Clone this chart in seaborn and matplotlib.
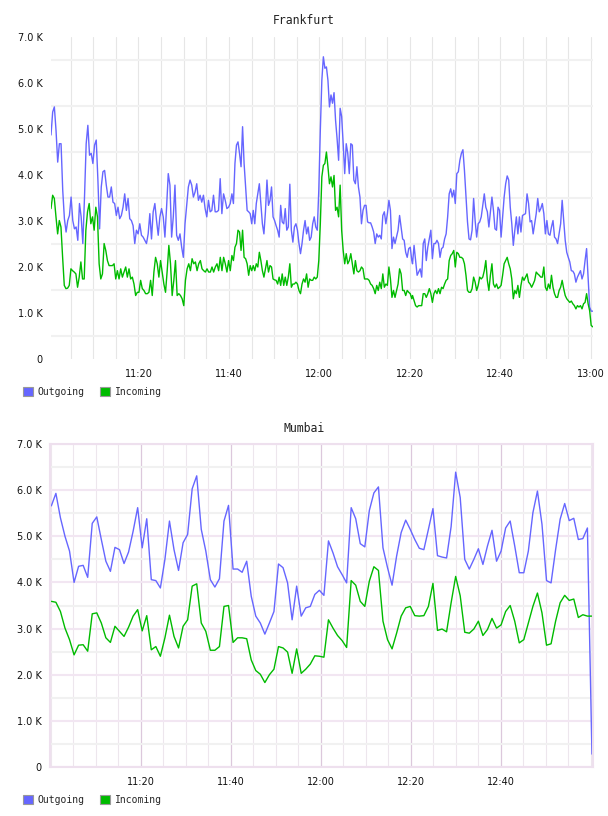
import numpy as np
import pandas as pd
import matplotlib
matplotlib.use("Agg")
import matplotlib.pyplot as plt
import matplotlib.dates as mdates
from matplotlib.patches import Patch
from matplotlib.ticker import FixedLocator, FuncFormatter
import seaborn as sns

sns.set_style("white")
plt.rcParams["font.family"] = ["DejaVu Sans"]

BLUE = "#6666ff"
GREEN = "#00bb00"
DAY = "2024-01-01 "
series_names = ["Outgoing", "Incoming"]

fra_windows = [("11:00:40", "11:40:40"), ("11:41:00", "12:20:26"), ("12:20:36", "13:00:26")]
fra_out_a = [4.87, 5.37, 5.48, 4.97, 4.28, 4.68, 4.68, 3.67, 3.05, 2.76,
             3.01, 3.12, 3.52, 3.01, 2.83, 2.87, 2.58, 3.38, 3.09, 2.51,
             3.52, 4.68, 5.08, 4.43, 4.47, 4.25, 4.65, 4.76, 3.89, 2.83,
             3.74, 4.07, 4.10, 3.78, 3.52, 3.52, 3.74, 3.41, 3.38, 3.12,
             3.30, 3.05, 3.12, 3.30, 3.59, 3.23, 3.49, 3.05, 3.01, 2.90,
             2.51, 2.80, 2.72, 2.94, 2.69, 2.65, 2.58, 2.51, 2.72, 3.16,
             2.61, 3.20, 3.38, 3.01, 2.69, 3.09, 3.27, 3.09, 2.65, 3.30,
             4.03, 3.78, 2.65, 3.09, 3.78, 2.69, 2.58, 2.72, 2.43, 2.21,
             2.94, 3.34, 3.74, 3.89, 3.78, 3.52, 3.63, 3.81, 3.45, 3.56,
             3.41, 3.56, 3.27, 3.09, 3.45, 3.20, 3.23, 3.56, 3.20, 3.20,
             3.23, 3.92, 3.16, 3.59, 3.45, 3.27, 3.30, 3.38, 3.59]
fra_out_b = [3.38, 4.25, 4.65, 4.72, 4.47, 4.18, 5.05, 4.25, 3.74, 3.23,
             3.20, 3.16, 2.94, 3.23, 2.94, 3.38, 3.59, 3.81, 3.38, 2.94,
             2.72, 3.20, 3.89, 3.34, 3.45, 3.74, 3.09, 3.01, 2.90, 2.80,
             2.65, 3.34, 2.98, 2.94, 3.27, 2.80, 2.87, 3.80, 2.80, 2.54,
             2.87, 2.94, 2.80, 2.51, 2.29, 2.51, 2.80, 3.01, 2.72, 2.87,
             2.58, 2.65, 2.94, 3.09, 2.87, 2.80, 3.67, 4.97, 6.06, 6.57,
             6.32, 6.35, 6.06, 5.48, 5.74, 5.56, 5.79, 5.19, 4.79, 4.32,
             5.45, 5.27, 4.68, 4.03, 4.68, 4.47, 4.03, 4.68, 4.65, 3.89,
             3.81, 4.18, 3.74, 3.52, 2.94, 3.23, 3.34, 3.34, 2.98, 2.96,
             2.96, 2.87, 2.76, 2.51, 2.72, 2.65, 2.69, 2.61, 3.12, 3.20,
             2.94, 3.16, 3.45, 3.23, 2.40, 2.65, 2.51, 2.65, 2.80, 3.12,
             2.87, 2.61, 2.58, 2.32, 2.21, 2.40, 2.43, 2.14]
fra_out_c = [2.07, 2.47, 2.14, 1.82, 1.89, 1.96, 1.78, 2.51, 2.61, 2.14,
             2.43, 2.61, 2.80, 2.18, 2.51, 2.51, 2.58, 2.51, 2.21, 2.40,
             2.43, 2.61, 2.72, 3.09, 3.59, 3.70, 3.52, 3.67, 3.38, 4.03,
             4.07, 4.32, 4.47, 4.55, 4.10, 3.52, 2.98, 2.61, 2.59, 2.80,
             3.49, 3.01, 2.65, 2.94, 2.98, 3.09, 3.34, 3.59, 3.30, 3.20,
             2.87, 3.20, 3.52, 3.23, 2.83, 2.80, 3.30, 3.23, 2.65, 3.09,
             3.52, 3.81, 3.98, 3.89, 3.30, 2.94, 2.47, 2.80, 3.09, 2.72,
             3.09, 2.76, 3.12, 3.14, 3.16, 3.59, 3.38, 2.98, 3.01, 2.72,
             2.94, 3.16, 3.49, 3.20, 3.27, 3.38, 3.16, 2.72, 3.01, 2.72,
             2.69, 2.87, 3.01, 2.65, 2.61, 2.51, 2.72, 2.94, 3.45, 3.01,
             2.58, 2.32, 2.21, 2.11, 1.92, 1.91, 1.85, 1.67, 1.78, 1.85,
             1.92, 1.74, 1.85, 2.14, 2.40, 1.78, 1.13, 1.04, 1.04]
fra_in_a = [3.27, 3.56, 3.49, 3.09, 2.72, 3.01, 2.87, 2.21, 1.60, 1.53,
            1.54, 1.60, 1.96, 1.92, 1.89, 1.85, 1.56, 1.78, 2.11, 1.74,
            1.74, 2.80, 3.20, 3.38, 2.94, 3.09, 2.80, 3.30, 3.09, 2.07,
            1.74, 1.85, 2.51, 2.36, 2.14, 2.03, 2.03, 2.03, 2.07, 1.74,
            1.92, 1.74, 1.96, 1.78, 1.89, 2.00, 1.78, 1.96, 1.74, 1.78,
            1.63, 1.38, 1.45, 1.45, 1.71, 1.53, 1.49, 1.42, 1.42, 1.45,
            1.71, 1.38, 1.89, 2.21, 2.07, 1.78, 2.14, 1.89, 1.63, 1.45,
            1.92, 2.47, 2.07, 1.38, 1.71, 2.14, 1.38, 1.42, 1.38, 1.31,
            1.16, 1.71, 1.96, 2.07, 1.92, 2.18, 2.07, 2.11, 1.92, 2.07,
            2.14, 1.96, 1.92, 1.89, 1.96, 1.89, 1.89, 2.00, 1.89, 2.00,
            2.07, 1.92, 2.21, 1.92, 2.21, 2.07, 1.89, 2.14, 1.92, 2.25]
fra_in_b = [2.14, 2.43, 2.51, 2.80, 2.76, 2.36, 2.80, 2.21, 2.18, 2.07,
            1.82, 2.03, 1.92, 2.03, 1.92, 2.07, 2.00, 2.32, 2.14, 1.92,
            1.78, 1.96, 2.14, 1.89, 2.03, 2.00, 1.74, 1.72, 1.71, 1.63,
            1.78, 1.60, 1.85, 1.60, 1.78, 1.60, 1.78, 2.07, 1.56, 1.63,
            1.63, 1.67, 1.63, 1.49, 1.42, 1.63, 1.74, 1.67, 1.85, 1.56,
            1.74, 1.71, 1.71, 1.78, 1.74, 1.78, 2.14, 2.94, 3.96, 4.21,
            4.25, 4.50, 4.18, 3.81, 3.96, 3.74, 3.99, 3.23, 3.30, 3.09,
            3.78, 2.80, 2.36, 2.07, 2.29, 2.07, 2.14, 2.29, 2.07, 1.85,
            2.14, 1.92, 1.89, 1.92, 2.00, 1.96, 1.74, 1.74, 1.74, 1.71,
            1.63, 1.60, 1.53, 1.42, 1.60, 1.49, 1.67, 1.53, 1.85, 1.56,
            1.63, 1.60, 2.00, 1.74, 1.34, 1.49, 1.34, 1.49, 1.63, 1.96,
            1.85, 1.49, 1.49, 1.38, 1.49, 1.45, 1.42, 1.31]
fra_in_c = [1.38, 1.27, 1.16, 1.13, 1.16, 1.16, 1.16, 1.42, 1.42, 1.34,
            1.42, 1.53, 1.42, 1.23, 1.42, 1.49, 1.42, 1.53, 1.42, 1.56,
            1.53, 1.63, 1.71, 1.74, 2.14, 2.25, 2.29, 2.36, 2.00, 2.32,
            2.29, 2.21, 2.21, 2.18, 2.07, 1.82, 1.49, 1.45, 1.45, 1.53,
            1.78, 1.67, 1.49, 1.60, 1.78, 1.74, 1.78, 1.92, 2.14, 1.71,
            1.49, 1.82, 2.07, 1.63, 1.56, 1.63, 1.53, 1.56, 1.60, 1.82,
            2.07, 2.14, 2.21, 2.07, 1.96, 1.74, 1.31, 1.49, 1.42, 1.60,
            1.34, 1.60, 1.78, 1.71, 1.78, 1.85, 1.67, 1.63, 1.56, 1.63,
            1.71, 1.89, 1.85, 1.82, 1.78, 1.78, 2.00, 1.56, 1.49, 1.63,
            1.53, 1.82, 1.56, 1.42, 1.34, 1.34, 1.49, 1.56, 1.71, 1.53,
            1.38, 1.31, 1.27, 1.23, 1.26, 1.20, 1.16, 1.09, 1.16, 1.13,
            1.16, 1.09, 1.20, 1.23, 1.42, 1.20, 1.05, 0.73, 0.70]

# Mumbai traffic (K), one sample per minute
mum_span = ("11:00:05", "13:00:13")
mum_out = [5.66, 5.93, 5.40, 5.00, 4.68, 4.00, 4.35, 4.37, 4.11, 5.28,
           5.42, 4.93, 4.46, 4.24, 4.76, 4.71, 4.41, 4.66, 5.11, 5.62,
           4.75, 5.38, 4.06, 4.04, 3.88, 4.50, 5.33, 4.71, 4.26, 4.86,
           5.04, 6.03, 6.31, 5.15, 4.68, 4.06, 3.90, 4.08, 5.33, 5.67,
           4.29, 4.29, 4.22, 4.46, 3.70, 3.27, 3.12, 2.88, 3.12, 3.37,
           4.40, 4.32, 3.99, 3.19, 3.92, 3.27, 3.45, 3.48, 3.74, 3.83,
           3.72, 4.90, 4.64, 4.34, 4.17, 3.99, 5.62, 5.38, 4.84, 4.77,
           5.56, 5.94, 6.07, 4.75, 4.32, 3.94, 4.57, 5.08, 5.35, 5.15,
           4.93, 4.74, 4.71, 5.15, 5.60, 4.58, 4.55, 4.53, 5.21, 6.39,
           5.84, 4.50, 4.29, 4.50, 4.73, 4.39, 4.79, 5.13, 4.46, 4.68,
           5.18, 5.33, 4.79, 4.21, 4.21, 4.68, 5.51, 5.98, 5.26, 4.04,
           3.99, 4.71, 5.37, 5.71, 5.34, 5.39, 4.93, 4.95, 5.18, 0.28]
mum_in = [3.59, 3.57, 3.37, 3.01, 2.76, 2.43, 2.64, 2.65, 2.51, 3.32,
          3.34, 3.12, 2.80, 2.70, 3.05, 2.94, 2.83, 3.03, 3.27, 3.41,
          2.95, 3.28, 2.54, 2.61, 2.40, 2.80, 3.29, 2.83, 2.58, 3.05,
          3.19, 3.92, 3.97, 3.12, 2.94, 2.53, 2.53, 2.61, 3.48, 3.50,
          2.70, 2.80, 2.80, 2.78, 2.32, 2.09, 2.01, 1.83, 2.00, 2.12,
          2.61, 2.58, 2.49, 2.03, 2.56, 2.03, 2.12, 2.23, 2.41, 2.40,
          2.38, 3.19, 3.01, 2.85, 2.74, 2.59, 4.04, 3.94, 3.59, 3.48,
          4.03, 4.34, 4.26, 3.16, 2.76, 2.56, 2.90, 3.27, 3.45, 3.48,
          3.28, 3.27, 3.28, 3.48, 3.98, 2.96, 2.99, 2.93, 3.56, 4.13,
          3.71, 2.92, 2.90, 2.99, 3.16, 2.85, 2.98, 3.22, 3.01, 3.08,
          3.37, 3.50, 3.16, 2.69, 2.76, 3.12, 3.48, 3.77, 3.34, 2.64,
          2.67, 3.16, 3.56, 3.72, 3.61, 3.64, 3.24, 3.30, 3.27, 3.27]

top_ticks = ["11:20", "11:40", "12:00", "12:20", "12:40", "13:00"]
bottom_ticks = ["11:20", "11:40", "12:00", "12:20", "12:40"]


def stamp(hms):
    return pd.Timestamp(DAY + hms)


def frame(parts):
    rows = []
    for name, start, end, vals in parts:
        times = pd.date_range(stamp(start), stamp(end), periods=len(vals))
        rows.append(pd.DataFrame({"time": times, "value": vals, "series": name}))
    return pd.concat(rows, ignore_index=True)


fra = frame([("Outgoing", *fra_windows[0], fra_out_a), ("Outgoing", *fra_windows[1], fra_out_b),
             ("Outgoing", *fra_windows[2], fra_out_c), ("Incoming", *fra_windows[0], fra_in_a),
             ("Incoming", *fra_windows[1], fra_in_b), ("Incoming", *fra_windows[2], fra_in_c)])
mum = frame([("Outgoing", *mum_span, mum_out), ("Incoming", *mum_span, mum_in)])

palette = {"Outgoing": BLUE, "Incoming": GREEN}
fig = plt.figure(figsize=(6.08, 8.16), dpi=100)
ax1 = fig.add_axes([51 / 608, 1 - 359 / 816, 542 / 608, 322 / 816])
ax2 = fig.add_axes([50 / 608, 1 - 767 / 816, 543 / 608, 323 / 816])

for ax, df in [(ax1, fra), (ax2, mum)]:
    sns.lineplot(data=df, x="time", y="value", hue="series", hue_order=series_names,
                 palette=palette, estimator=None, linewidth=1.0, legend=False, ax=ax)


def k_label(v, pos):
    return "0" if v == 0 else f"{v:.1f} K"


def style(ax, xlim, ticks):
    ax.set_xlim(stamp(xlim[0]), stamp(xlim[1]))
    ax.set_ylim(0, 7)
    ax.yaxis.set_major_locator(FixedLocator(range(8)))
    ax.yaxis.set_minor_locator(FixedLocator(np.arange(0.5, 7, 1)))
    ax.yaxis.set_major_formatter(FuncFormatter(k_label))
    ax.xaxis.set_major_locator(FixedLocator([mdates.date2num(stamp(t)) for t in ticks]))
    ax.xaxis.set_minor_locator(mdates.MinuteLocator(byminute=range(0, 60, 5)))
    ax.xaxis.set_major_formatter(mdates.DateFormatter("%H:%M"))
    ax.tick_params(which="both", length=0, labelsize=7, colors="#111")
    ax.tick_params(axis="y", pad=6)
    ax.tick_params(axis="x", pad=7)
    ax.set_xlabel("")
    ax.set_ylabel("")
    ax.set_axisbelow(True)


# Frankfurt: plain grey grid, no frame
style(ax1, ("11:00:40", "13:00:30"), top_ticks)
ax1.grid(axis="y", which="minor", color="#f1f1f1", linewidth=1.5)
ax1.grid(axis="x", which="both", color="#e6e6e6", linewidth=0.8)
for s in ax1.spines.values():
    s.set_visible(False)

# Mumbai: lavender grid with frame
style(ax2, ("10:59:47", "13:00:27"), bottom_ticks)
ax2.grid(axis="y", which="major", color="#f2e6f2", linewidth=1.5)
ax2.grid(axis="y", which="minor", color="#f1f1f1", linewidth=1.5)
ax2.grid(axis="x", which="major", color="#dcc8dc", linewidth=0.9)
ax2.grid(axis="x", which="minor", color="#ede6ed", linewidth=0.8)
for s in ax2.spines.values():
    s.set_color("#eee0ee")
    s.set_linewidth(1.5)

mono = {"family": "DejaVu Sans Mono"}
fig.text(304 / 608, 1 - 20 / 816, "Frankfurt", ha="center", va="center", size=8.3, color="#222", **mono)
fig.text(304 / 608, 1 - 429 / 816, "Mumbai", ha="center", va="center", size=8.3, color="#222", **mono)

handles = [Patch(facecolor=palette[n], edgecolor="#999999", linewidth=0.8) for n in series_names]
for y in (392, 800):
    fig.legend(handles, series_names, loc="center left", bbox_to_anchor=(23 / 608, 1 - y / 816),
               ncol=2, frameon=False, prop={"family": "DejaVu Sans Mono", "size": 7},
               handlelength=1.0, handleheight=1.0, handletextpad=0.5, columnspacing=1.6,
               borderpad=0, borderaxespad=0)

fig.savefig("out.png", dpi=100)
